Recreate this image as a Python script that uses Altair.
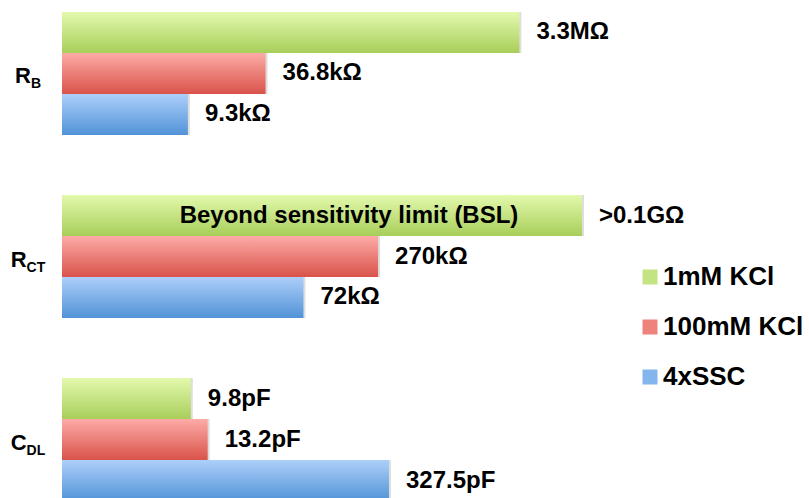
import altair as alt
import pandas as pd

# Parameters and conditions
groups = ["R_B", "R_CT", "C_DL"]
series = ["1mM KCl", "100mM KCl", "4xSSC"]

# Magnitudes on a shared log axis: resistances in kΩ, capacitances in pF.
# The 1mM KCl charge-transfer resistance is beyond the sensitivity limit and is
# drawn at the 10 MΩ display cap.
rb_values = [3300, 36.8, 9.3]
rct_values = [10000, 270, 72]
cdl_values = [9.8, 13.2, 327.5]

rb_labels = ["3.3MΩ", "36.8kΩ", "9.3kΩ"]
rct_labels = [">0.1GΩ", "270kΩ", "72kΩ"]
cdl_labels = ["9.8pF", "13.2pF", "327.5pF"]

label_main = ["R", "R", "C"]
label_sub = ["B", "CT", "DL"]

bsl_text = "Beyond sensitivity limit (BSL)"

FONT = "Liberation Sans"
AXIS_START = 1  # 1 kΩ / 1 pF at the left edge of the bars

# vertical gradients (light top -> darker bottom) per series
grad_stops = {
    "1mM KCl": ("#e3f9ad", "#a8ce5a"),
    "100mM KCl": ("#fdaba7", "#d9534a"),
    "4xSSC": ("#adcffa", "#5193d7"),
}
legend_colors = ["#c4e483", "#ee837b", "#84b5ec"]

rows = []
for g, vals, labs in zip(groups, [rb_values, rct_values, cdl_values],
                         [rb_labels, rct_labels, cdl_labels]):
    for s, v, l in zip(series, vals, labs):
        rows.append({"group": g, "series": s, "value": v, "start": AXIS_START,
                     "label": l})
df = pd.DataFrame(rows)

# centre the two-size category labels on a common x position
ARIAL_BOLD = {"R": 0.722, "C": 0.722, "B": 0.722, "T": 0.611, "D": 0.722, "L": 0.611}
MAIN_SIZE, SUB_SIZE = 22, 14
LABEL_CENTER = -34
lab_rows = []
for g, m, s in zip(groups, label_main, label_sub):
    wm = sum(ARIAL_BOLD[c] for c in m) * MAIN_SIZE
    ws = sum(ARIAL_BOLD[c] for c in s) * SUB_SIZE
    lab_rows.append({"group": g, "main": m, "sub": s,
                     "join": LABEL_CENTER + (wm - ws) / 2})
df_lab = pd.DataFrame(lab_rows)

df_bsl = pd.DataFrame([{"group": "R_CT", "series": "1mM KCl",
                        "center": (AXIS_START * rct_values[0]) ** 0.5,
                        "text": bsl_text}])

x_scale = alt.Scale(type="log", domain=[AXIS_START, 1e5], range=[0, 650])
x_enc = alt.X("value:Q", scale=x_scale, axis=None)
y_enc = alt.Y("group:N", sort=groups, axis=None,
              scale=alt.Scale(domain=groups, range=[12, 501],
                              paddingInner=0.328, paddingOuter=0))
yoff = alt.YOffset("series:N", sort=series,
                   scale=alt.Scale(domain=series, paddingInner=0, paddingOuter=0))

base = alt.Chart(df)

shadow = base.mark_bar(color="#000000", opacity=0.13, orient="horizontal",
                       xOffset=2, x2Offset=2, yOffset=2, y2Offset=2).encode(
    x=x_enc, x2="start:Q", y=y_enc, yOffset=yoff)

bars = []
for s in series:
    top, bottom = grad_stops[s]
    grad = alt.Gradient(gradient="linear",
                        stops=[alt.GradientStop(color=top, offset=0),
                               alt.GradientStop(color=bottom, offset=1)],
                        x1=0, x2=0, y1=0, y2=1)
    bars.append(
        base.transform_filter(alt.datum.series == s)
        .mark_bar(color=grad, orient="horizontal")
        .encode(x=x_enc, x2="start:Q", y=y_enc, yOffset=yoff)
    )

legend_layer = base.mark_bar(opacity=0, orient="horizontal").encode(
    x=x_enc, x2="start:Q", y=y_enc, yOffset=yoff,
    color=alt.Color("series:N", sort=series,
                    scale=alt.Scale(domain=series, range=legend_colors),
                    legend=alt.Legend(orient="none", legendX=575, legendY=264,
                                      title=None, symbolType="square",
                                      symbolSize=225, symbolOpacity=1,
                                      symbolStrokeWidth=0, labelFontSize=26,
                                      labelFont=FONT, labelFontWeight="bold",
                                      labelColor="black", rowPadding=24,
                                      labelOffset=0, padding=0)))

values_text = base.mark_text(align="left", baseline="middle", dx=17,
                             fontSize=24, fontWeight="bold", font=FONT,
                             color="black").encode(
    x=x_enc, y=y_enc, yOffset=yoff, text="label:N")

bsl = alt.Chart(df_bsl).mark_text(align="center", baseline="middle", dx=27,
                                  fontSize=24, fontWeight="bold", font=FONT,
                                  color="black").encode(
    x=alt.X("center:Q", scale=x_scale, axis=None),
    y=y_enc, yOffset=yoff, text="text:N")

main_lab = alt.Chart(df_lab).mark_text(align="right", baseline="alphabetic",
                                       dy=10, fontSize=MAIN_SIZE,
                                       fontWeight="bold", font=FONT,
                                       color="black").encode(
    x=alt.X("join:Q", scale=None), y=y_enc, text="main:N")

sub_lab = alt.Chart(df_lab).mark_text(align="left", baseline="alphabetic",
                                      dy=15, fontSize=SUB_SIZE,
                                      fontWeight="bold", font=FONT,
                                      color="black").encode(
    x=alt.X("join:Q", scale=None), y=y_enc, text="sub:N")

chart = alt.layer(shadow, *bars, legend_layer, values_text, bsl,
                  main_lab, sub_lab).properties(
    width=747, height=498, autosize="none",
    padding={"left": 62, "top": 0, "right": 0, "bottom": 0},
    background="white",
).configure_view(strokeWidth=0)

chart.save("out.html", embed_options={"renderer": "svg", "actions": False})
